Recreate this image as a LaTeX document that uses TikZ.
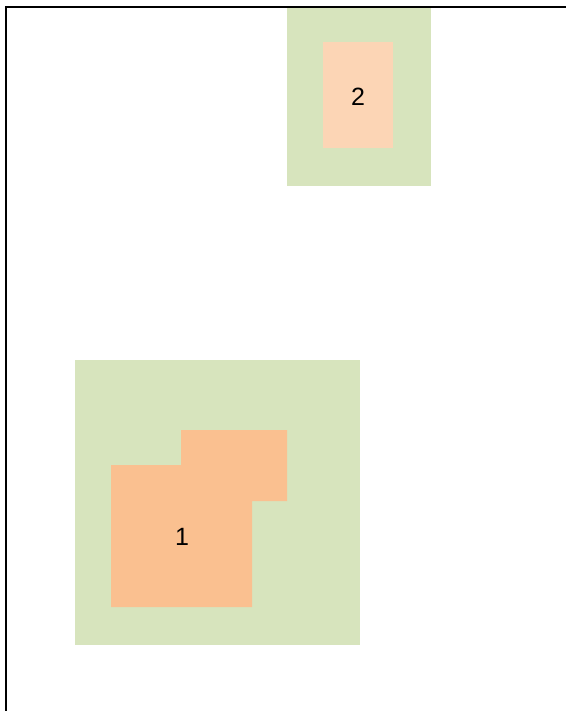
\documentclass[tikz,border=0pt]{standalone}
\usepackage{fontspec}
\setmainfont{Liberation Sans}
\definecolor{greenbg}{HTML}{D7E4BD}
\definecolor{peachlt}{HTML}{FCD5B5}
\definecolor{orangemd}{HTML}{FAC090}
\begin{document}
\begin{tikzpicture}[x=1pt,y=-1pt,
  zone/.style={fill=greenbg,draw=none},
  room/.style={fill=peachlt,draw=none},
  lbl/.style={font=\fontsize{25}{30}\selectfont,inner sep=0pt}]
\useasboundingbox (0,0) rectangle (566,711);
% top zone
\fill[zone] (287,7) rectangle (431,186);
\fill[room] (323,42) rectangle (393,148);
\node[lbl] (n2) at (358,97) {2};
% bottom zone
\fill[zone] (75,360) rectangle (360,645);
\fill[orangemd] (111,465) -- (181,465) -- (181,430) -- (287,430) -- (287,501) -- (252,501) -- (252,607) -- (111,607) -- cycle;
\node[lbl] (n1) at (182,537) {1};
% frame lines
\draw[line width=2pt] (6,711) -- (6,7.5) -- (566,7.5);
\end{tikzpicture}
\end{document}
